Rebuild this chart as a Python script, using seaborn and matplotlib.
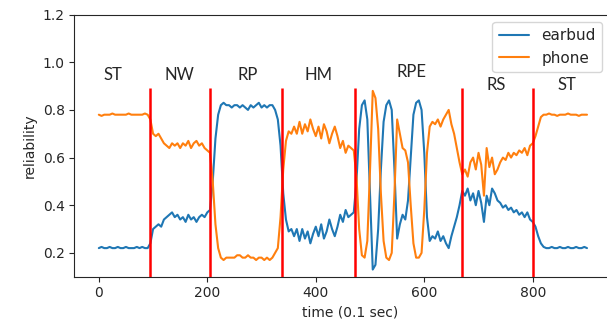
import numpy as np
import pandas as pd
import matplotlib
matplotlib.use("Agg")
import matplotlib.pyplot as plt
import seaborn as sns

# ── data (one sample every 5 time steps) ─────────────────────────────────
time = np.arange(0, 901, 5)

earbud = [
    # ST 0-90
    0.22, 0.225, 0.22, 0.22, 0.225, 0.22, 0.22, 0.225, 0.22, 0.22,
    0.225, 0.22, 0.22, 0.22, 0.225, 0.22, 0.225, 0.22, 0.22,
    0.24,
    # NW 100-200
    0.30, 0.31, 0.32, 0.31, 0.34, 0.35, 0.36, 0.37, 0.35, 0.36, 0.34,
    0.35, 0.33, 0.36, 0.34, 0.35, 0.33, 0.35, 0.36, 0.35, 0.37,
    0.38,
    # RP 210-335
    0.50, 0.68, 0.78, 0.82, 0.83, 0.82, 0.82, 0.81, 0.82, 0.82, 0.81,
    0.82, 0.81, 0.80, 0.82, 0.81, 0.82, 0.83, 0.81, 0.82, 0.81, 0.82,
    0.82, 0.80, 0.76, 0.65,
    0.45,
    # HM 345-470
    0.34, 0.29, 0.30, 0.27, 0.30, 0.25, 0.30, 0.26, 0.29, 0.24, 0.28,
    0.31, 0.27, 0.32, 0.26, 0.29, 0.34, 0.30, 0.27, 0.31, 0.36, 0.33,
    0.38, 0.35, 0.36, 0.37,
    # RPE 475-670
    0.50, 0.72, 0.82, 0.84, 0.76, 0.45, 0.13, 0.15, 0.30, 0.55, 0.75,
    0.82, 0.84, 0.80, 0.55, 0.26, 0.32, 0.36, 0.34, 0.42, 0.60, 0.78,
    0.83, 0.84, 0.80, 0.62, 0.35, 0.25, 0.27, 0.26, 0.29, 0.25, 0.27,
    0.24, 0.22, 0.27, 0.31, 0.35, 0.40, 0.46,
    # RS 675-800
    0.44, 0.47, 0.42, 0.45, 0.40, 0.46, 0.41, 0.33, 0.44, 0.40, 0.47,
    0.45, 0.42, 0.41, 0.39, 0.40, 0.38, 0.39, 0.37, 0.38, 0.36, 0.37,
    0.35, 0.37, 0.34, 0.33,
    # ST 805-900
    0.31, 0.27, 0.24, 0.225, 0.22, 0.22, 0.225, 0.22, 0.22, 0.225,
    0.22, 0.22, 0.225, 0.22, 0.22, 0.225, 0.22, 0.22, 0.225, 0.22,
]

phone = [
    # ST 0-90
    0.78, 0.775, 0.78, 0.78, 0.78, 0.785, 0.78, 0.78, 0.78, 0.78,
    0.78, 0.785, 0.78, 0.78, 0.78, 0.78, 0.78, 0.785, 0.78,
    0.76,
    # NW 100-200
    0.70, 0.69, 0.70, 0.68, 0.66, 0.65, 0.64, 0.66, 0.65, 0.66, 0.64,
    0.66, 0.65, 0.67, 0.64, 0.66, 0.67, 0.65, 0.66, 0.64, 0.63,
    0.62,
    # RP 210-335
    0.50, 0.32, 0.22, 0.18, 0.17, 0.18, 0.18, 0.18, 0.18, 0.19, 0.19,
    0.18, 0.18, 0.19, 0.18, 0.18, 0.17, 0.18, 0.18, 0.17, 0.18, 0.17,
    0.18, 0.20, 0.22, 0.35,
    0.55,
    # HM 345-470
    0.67, 0.71, 0.70, 0.73, 0.70, 0.75, 0.70, 0.74, 0.71, 0.76, 0.72,
    0.69, 0.73, 0.68, 0.74, 0.71, 0.66, 0.70, 0.73, 0.69, 0.64, 0.67,
    0.62, 0.65, 0.64, 0.63,
    # RPE 475-670
    0.52, 0.30, 0.19, 0.18, 0.25, 0.55, 0.88, 0.85, 0.72, 0.45, 0.25,
    0.18, 0.17, 0.20, 0.45, 0.76, 0.70, 0.64, 0.63, 0.58, 0.40, 0.24,
    0.18, 0.18, 0.20, 0.38, 0.62, 0.73, 0.75, 0.74, 0.76, 0.73, 0.76,
    0.78, 0.80, 0.74, 0.70, 0.64, 0.58, 0.53,
    # RS 675-800
    0.55, 0.52, 0.58, 0.60, 0.55, 0.62, 0.57, 0.44, 0.64, 0.56, 0.60,
    0.53, 0.55, 0.58, 0.60, 0.59, 0.62, 0.60, 0.62, 0.61, 0.63, 0.62,
    0.64, 0.61, 0.65, 0.66,
    # ST 805-900
    0.69, 0.73, 0.77, 0.78, 0.78, 0.785, 0.78, 0.78, 0.775, 0.78,
    0.78, 0.78, 0.785, 0.78, 0.78, 0.78, 0.775, 0.78, 0.78, 0.78,
]

boundaries = [95, 205, 338, 472, 669, 800]
seg_names = ["ST", "NW", "RP", "HM", "RPE", "RS", "ST"]
seg_centers = [26, 148, 275, 405, 576, 733, 863]
seg_heights = [0.948, 0.948, 0.948, 0.948, 0.958, 0.905, 0.905]

# ── long-form table for seaborn ──────────────────────────────────────────
df = pd.concat([
    pd.DataFrame({"time": time, "reliability": earbud, "device": "earbud"}),
    pd.DataFrame({"time": time, "reliability": phone, "device": "phone"}),
])

sns.set_style("ticks")
plt.rcParams["font.family"] = ["DejaVu Sans"]

fig = plt.figure(figsize=(6.07, 3.28), dpi=100)
# the original is cropped on the right, so the frame runs past the edge
ax = fig.add_axes([0.1226, 0.1564, 0.907, 0.799])

sns.lineplot(data=df, x="time", y="reliability", hue="device",
             palette={"earbud": "#1f77b4", "phone": "#ff7f0e"},
             linewidth=1.5, ax=ax)

# segment boundaries
ax.vlines(boundaries, 0.1, 0.89, colors="red", linewidth=1.8, zorder=3)

for name, xc, yc in zip(seg_names, seg_centers, seg_heights):
    ax.text(xc, yc, name, ha="center", va="center",
            fontsize=12, family=["Lato", "DejaVu Sans"])

ax.set_xlim(-45, 970)
ax.set_ylim(0.1, 1.2)
ax.set_xticks([0, 200, 400, 600, 800])
ax.set_yticks([0.2, 0.4, 0.6, 0.8, 1.0, 1.2])
ax.set_xlabel("time (0.1 sec)")
ax.set_ylabel("reliability")
ax.legend(loc="upper right", bbox_to_anchor=(0.958, 0.972),
          borderaxespad=0, fontsize=11)

fig.savefig("out.png", dpi=100)
plt.close(fig)
